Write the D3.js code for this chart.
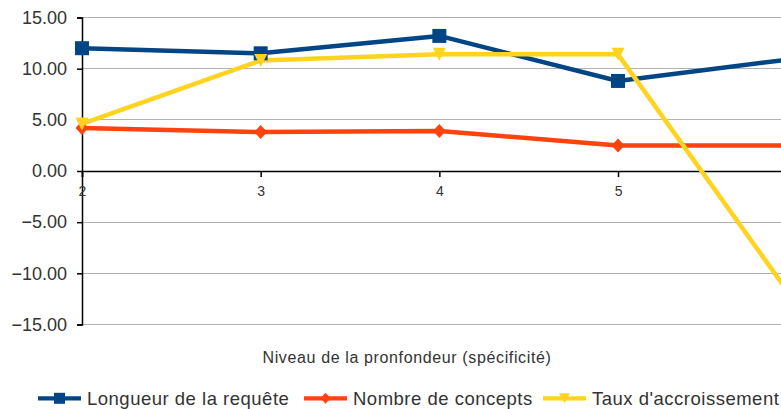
<!DOCTYPE html>
<html><head><meta charset="utf-8">
<script src="https://cdn.jsdelivr.net/npm/d3@7"></script>
<style>html,body{margin:0;padding:0;background:#fff;overflow:hidden}svg{display:block}</style>
</head><body>
<svg id="c" width="781" height="409"></svg>
<script>
const levels = [2, 3, 4, 5, 6];
const longueur = [12.0, 11.5, 13.2, 8.8, 11.0];
const concepts = [4.2, 3.8, 3.9, 2.5, 2.5];
const taux = [4.6, 10.8, 11.4, 11.4, -13.0];
const yTicks = [15, 10, 5, 0, -5, -10, -15];
const seriesNames = ["Longueur de la requête", "Nombre de concepts", "Taux d'accroissement"];
const xTitle = "Niveau de la pronfondeur (spécificité)";

const colors = ["#004586", "#ff420e", "#ffd320"];
const font = "'Liberation Sans', Arial, sans-serif";
const svg = d3.select("#c");
const W = 781;
const x = d3.scaleLinear().domain([2, 6]).range([82, 796.7]);
const y = d3.scaleLinear().domain([-15, 15]).range([324.5, 17.5]);

// custom marker shapes (w = half width, h = half height)
const squareSym = s => ({draw(c) { c.moveTo(-s, -s); c.lineTo(s, -s); c.lineTo(s, s); c.lineTo(-s, s); c.closePath(); }});
const diamondSym = (w, h) => ({draw(c) { c.moveTo(0, -h); c.lineTo(w, 0); c.lineTo(0, h); c.lineTo(-w, 0); c.closePath(); }});
const triDownSym = (w, h) => ({draw(c) { c.moveTo(-w, -h); c.lineTo(w, -h); c.lineTo(0, h); c.closePath(); }});

// gridlines
svg.append("g").selectAll("line").data(yTicks.filter(d => d !== 0)).join("line")
  .attr("x1", 82).attr("x2", 900).attr("y1", d => y(d)).attr("y2", d => y(d))
  .attr("stroke", "#b3b3b3").attr("stroke-width", 1.2).attr("shape-rendering", "crispEdges");

// y axis
const ya = svg.append("g").attr("transform", "translate(82,0)")
  .call(d3.axisLeft(y).tickValues(yTicks).tickSize(5).tickPadding(10).tickFormat(d3.format(".2f")));
ya.select(".domain").attr("stroke", "#000").attr("stroke-width", 1.5);
ya.selectAll(".tick line").attr("stroke", "#000").attr("stroke-width", 1.5);
ya.selectAll("text").attr("font-family", font).attr("font-size", 18).attr("fill", "#333");

// x axis at zero (only ticks that fall inside the visible window)
const xa = svg.append("g").attr("transform", `translate(0,${y(0)})`)
  .call(d3.axisBottom(x).tickValues(levels.filter(l => x(l) <= W)).tickSize(6).tickPadding(9).tickFormat(d3.format("d")));
xa.select(".domain").attr("stroke", "#000").attr("stroke-width", 1.5);
xa.selectAll(".tick line").attr("stroke", "#000").attr("stroke-width", 1.5);
xa.selectAll("text").attr("font-family", font).attr("font-size", 14).attr("fill", "#333");

// x axis title
svg.append("text").attr("x", 407).attr("y", 363).attr("text-anchor", "middle")
  .attr("font-family", font).attr("font-size", 16).attr("letter-spacing", 0.63)
  .attr("fill", "#333").text(xTitle);

const line = d3.line().x((d, i) => x(levels[i])).y(d => y(d));
const allSeries = [longueur, concepts, taux];
const markers = [squareSym(7), diamondSym(6.5, 7), triDownSym(6.5, 6.5)];
const legMarkers = [squareSym(5.5), diamondSym(5, 5.5), triDownSym(5.5, 5)];

allSeries.forEach((s, k) => {
  svg.append("path").datum(s).attr("d", line).attr("fill", "none")
    .attr("stroke", colors[k]).attr("stroke-width", 4.5).attr("stroke-linejoin", "round");
});
allSeries.forEach((s, k) => {
  svg.append("g").selectAll("path").data(s).join("path")
    .attr("d", d3.symbol(markers[k]))
    .attr("transform", (d, i) => `translate(${x(levels[i])},${y(d)})`)
    .attr("fill", colors[k]);
});

// legend
const legX = [38, 304, 543];
const lg = svg.append("g");
seriesNames.forEach((n, k) => {
  const g = lg.append("g").attr("transform", `translate(${legX[k]},398.3)`);
  g.append("line").attr("x1", 0).attr("x2", 43).attr("stroke", colors[k]).attr("stroke-width", 4.3);
  g.append("path").attr("d", d3.symbol(legMarkers[k]))
    .attr("transform", `translate(21.5,0)`).attr("fill", colors[k]);
  g.append("text").attr("x", 49).attr("y", 6.5).attr("font-family", font).attr("font-size", 18.5)
    .attr("letter-spacing", 0.5).attr("fill", "#333").text(n);
});
</script>
</body></html>
